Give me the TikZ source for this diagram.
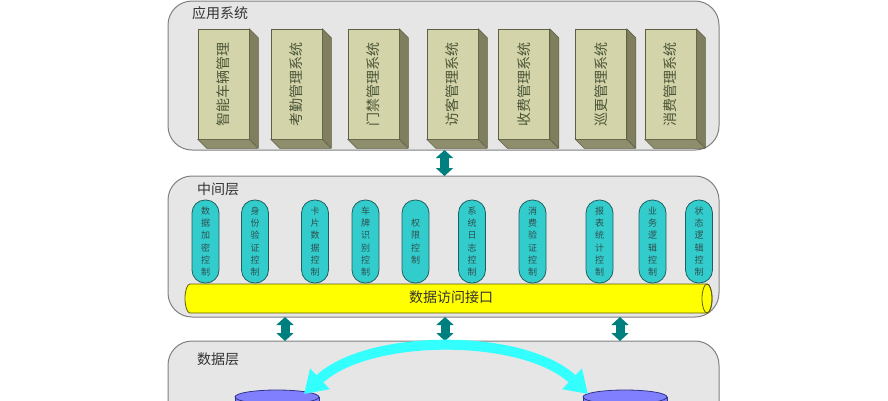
\documentclass[tikz,border=0pt]{standalone}
\usepackage{fontspec}
\usepackage{graphicx}
\newfontfamily\cjk{Noto Sans CJK SC}
\usetikzlibrary{arrows.meta}
\definecolor{panelfill}{HTML}{E6E6E6}
\definecolor{panelline}{HTML}{808080}
\definecolor{boxfront}{HTML}{D4D4AA}
\definecolor{boxsidec}{HTML}{7F7F5F}
\definecolor{boxbottomc}{HTML}{8E8E6C}
\definecolor{boxline}{HTML}{5E5E44}
\definecolor{boxtext}{HTML}{4A5536}
\definecolor{pillfill}{HTML}{33CCCC}
\definecolor{pillline}{HTML}{1F5F5F}
\definecolor{pilltext}{HTML}{2F4F4F}
\definecolor{busfill}{HTML}{FFFF00}
\definecolor{busline}{HTML}{5C5C10}
\definecolor{arrteal}{HTML}{007F7F}
\definecolor{arrcyan}{HTML}{33FFFF}
\definecolor{dbfill}{HTML}{8080FF}
\definecolor{dbline}{HTML}{333388}
\definecolor{labeltext}{HTML}{333333}
\begin{document}
\begin{tikzpicture}[x=1pt,y=-1pt,
  panel/.style={fill=panelfill, draw=panelline, line width=1pt, rounded corners=24pt},
  layerlabel/.style={font=\cjk\fontsize{14}{16}\selectfont, text=labeltext, anchor=west, inner sep=0pt},
  appbox/.style={fill=boxfront, draw=boxline, line width=0.5pt, minimum width=51pt, minimum height=110pt, inner sep=0pt, font=\cjk\fontsize{14}{16}\selectfont, text=boxtext},
  sideface/.style={fill=boxsidec, draw=boxline, line width=0.5pt},
  bottomface/.style={fill=boxbottomc, draw=boxline, line width=0.5pt},
  pill/.style={fill=pillfill, draw=pillline, line width=0.8pt, rounded corners=13pt, minimum width=27pt, minimum height=83pt, inner sep=0pt, align=center, font=\cjk\fontsize{9}{12.3}\selectfont, text=pilltext},
  busbody/.style={fill=busfill, draw=busline, line width=0.8pt},
  bustext/.style={font=\cjk\fontsize{14}{16}\selectfont, text=labeltext, inner sep=0pt},
  tealarrow/.style={draw=arrteal, line width=9pt, arrows={Triangle[width=17pt,length=8pt]-Triangle[width=17pt,length=8pt]}},
  cyanarrow/.style={draw=arrcyan, line width=10pt, arrows={Triangle[width=27pt,length=22pt]-Triangle[width=27pt,length=22pt]}},
  dbbody/.style={fill=dbfill, draw=dbline, line width=0.8pt}
]
\useasboundingbox (0,0) rectangle (888,400);
\clip (0,0) rectangle (888,400);

% panels
\draw[panel] (168,1) rectangle (719,150);
\draw[panel] (168,176) rectangle (719,317);
\draw[panel] (168,341) rectangle (719,440);

\node[layerlabel] (lab1) at (192,13) {应用系统};
\node[layerlabel] (lab2) at (197,189) {中间层};
\node[layerlabel] (lab3) at (197,359) {数据层};

% application boxes
\foreach \n/\x/\t in {1/223.5/智能车辆管理, 2/296.5/考勤管理系统, 3/373.5/门禁管理系统, 4/452.5/访客管理系统, 5/524/收费管理系统, 6/601/巡更管理系统, 7/670.5/消费管理系统}{
  \node[appbox] (b\n) at (\x,84) {\rotatebox{90}{\t}};
  \filldraw[sideface] (b\n.north east) -- ++(9,9) -- ++(0,110) -- (b\n.south east) -- cycle;
  \filldraw[bottomface] (b\n.south west) -- ++(9,9) -- ++(51,0) -- (b\n.south east) -- cycle;
}

% data access bus
\filldraw[busbody] (190,284) -- (707,284) arc[start angle=-90, end angle=90, x radius=5, y radius=14.5]
  -- (190,313) arc[start angle=90, end angle=270, x radius=5, y radius=14.5] -- cycle;
\draw[busline, line width=0.8pt] (707,298.5) ellipse [x radius=5, y radius=14.5];
\node[bustext] (bus) at (451,297.5) {数据访问接口};

% middle layer pills
\foreach \n/\x/\t in {1/205.5/{数\\据\\加\\密\\控\\制}, 2/255/{身\\份\\验\\证\\控\\制}, 3/315/{卡\\片\\数\\据\\控\\制}, 4/365.5/{车\\牌\\识\\别\\控\\制}, 5/415.5/{权\\限\\控\\制}, 6/472/{系\\统\\日\\志\\控\\制}, 7/532.5/{消\\费\\验\\证\\控\\制}, 8/599.5/{报\\表\\统\\计\\控\\制}, 9/652.5/{业\\务\\逻\\辑\\控\\制}, 10/699/{状\\态\\逻\\辑\\控\\制}}{
  \node[pill] (p\n) at (\x,241.5) {\t};
}

% connectors between layers
\coordinate (t1) at (444.5,150);
\coordinate (t2) at (444.5,176);
\draw[tealarrow] (t1) -- (t2);
\foreach \n/\x in {1/285, 2/445, 3/620}{
  \coordinate (u\n) at (\x,317);
  \coordinate (v\n) at (\x,341);
  \draw[tealarrow] (u\n) -- (v\n);
}

% databases
\filldraw[dbbody] (235,397) rectangle (319,420);
\filldraw[dbbody] (277,397) ellipse [x radius=42, y radius=7];
\filldraw[dbbody] (583,397) rectangle (667,420);
\filldraw[dbbody] (625,397) ellipse [x radius=42, y radius=7];
\coordinate (db1) at (304,394);
\coordinate (db2) at (588,394);
\draw[cyanarrow] (db1) .. controls (368,333) and (524,333) .. (db2);
\end{tikzpicture}
\end{document}
